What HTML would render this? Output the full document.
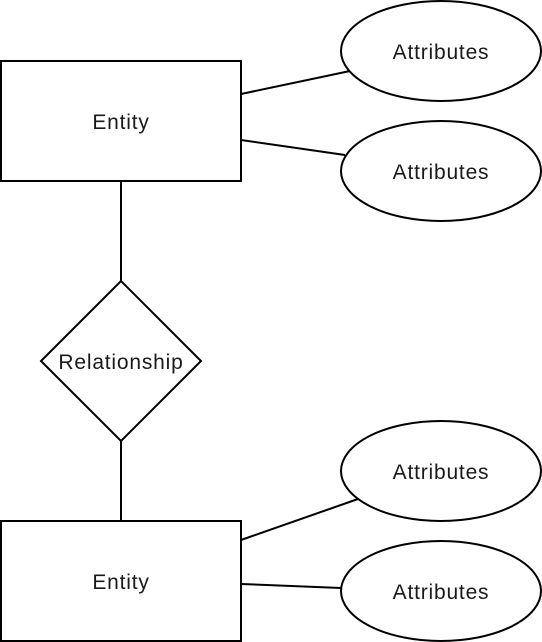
<!DOCTYPE html>
<html><head><meta charset="utf-8"><style>html,body{margin:0;padding:0;background:#fff}svg{display:block}</style></head>
<body>
<svg width="542" height="642" viewBox="0 0 542 642" xmlns="http://www.w3.org/2000/svg" font-family="Liberation Sans, sans-serif" font-size="21" fill="none" stroke="#000" stroke-width="2">
<rect x="1" y="61" width="240" height="120" fill="#fff"/>
<rect x="1" y="521" width="240" height="120" fill="#fff"/>
<ellipse cx="441" cy="51" rx="100" ry="50" fill="#fff"/>
<ellipse cx="441" cy="171" rx="100" ry="50" fill="#fff"/>
<ellipse cx="441" cy="471" rx="100" ry="50" fill="#fff"/>
<ellipse cx="441" cy="591" rx="100" ry="50" fill="#fff"/>
<polygon points="121,281 201,361 121,441 41,361" fill="#fff"/>
<line x1="121" y1="181" x2="121" y2="281"/>
<line x1="121" y1="441" x2="121" y2="521"/>
<line x1="241" y1="94" x2="350" y2="71"/>
<line x1="241" y1="140" x2="345" y2="155"/>
<line x1="241" y1="540" x2="358" y2="499"/>
<line x1="241" y1="584" x2="341" y2="588"/>
<g fill="#1a1a1a" stroke="none" text-anchor="middle" letter-spacing="0.8">
<text x="121" y="129">Entity</text>
<text x="121" y="589">Entity</text>
<text x="121" y="369">Relationship</text>
<text x="441" y="59">Attributes</text>
<text x="441" y="179">Attributes</text>
<text x="441" y="479">Attributes</text>
<text x="441" y="599">Attributes</text>
</g>
</svg>
</body></html>
